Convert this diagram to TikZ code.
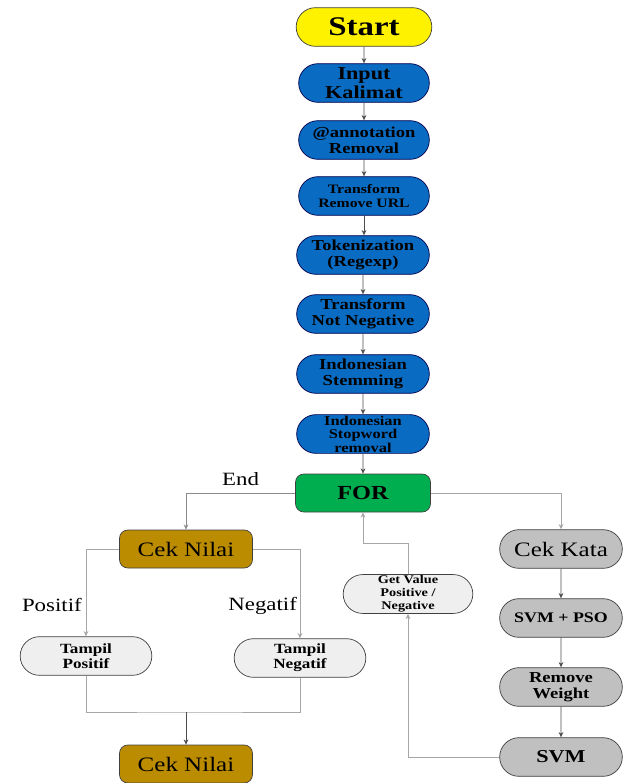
\documentclass[tikz,border=0pt]{standalone}
\usepackage{fontspec}
\setmainfont[FakeStretch=1.22]{Liberation Serif}
\usetikzlibrary{shapes.misc, arrows.meta}
\tikzset{>={Stealth[length=4.5pt,width=4pt]}}
\definecolor{stepblue}{HTML}{0A6BC2}
\definecolor{stepgold}{HTML}{BC8C00}
\definecolor{stepgreen}{HTML}{00AE4F}
\definecolor{lightfill}{HTML}{EFEFEF}
\definecolor{grayfill}{HTML}{C0C0C0}
\tikzset{
  pill/.style={rounded rectangle, draw=black!75, line width=0.6pt, align=center,
    minimum width=3.99cm, minimum height=1.16cm, inner sep=1pt},
  bluebox/.style={pill, fill=stepblue, draw=black!70!blue, font=\bfseries\fontsize{13}{14}\selectfont},
  box/.style={rectangle, rounded corners=0.25cm, draw=black!75, line width=0.6pt,
    minimum width=3.99cm, minimum height=1.14cm, align=center},
  flow/.style={->, draw=black!70, line width=0.5pt},
  branch/.style={draw=black!35, line width=0.6pt},
  tag/.style={font=\fontsize{16}{16}\selectfont},
}
\begin{document}
\begin{tikzpicture}[x=0.03cm, y=-0.03cm]
\useasboundingbox (0,0) rectangle (623,783);
% main chain
\node[pill, fill=yellow, minimum width=4.14cm, font=\bfseries\fontsize{23}{23}\selectfont] (start) at (364,27) {Start};
\node[bluebox, font=\bfseries\fontsize{15.5}{16}\selectfont] (input) at (364,83) {Input\\Kalimat};
\node[bluebox] (annot) at (364,140) {@annotation\\Removal};
\node[bluebox, font=\bfseries\fontsize{11}{12}\selectfont] (url) at (364,196) {Transform\\Remove URL};
\node[bluebox, minimum width=4.05cm] (token) at (363,255) {Tokenization\\(Regexp)};
\node[bluebox, minimum width=4.05cm] (notneg) at (363,314) {Transform\\Not Negative};
\node[bluebox, minimum width=4.05cm] (stem) at (363,374) {Indonesian\\Stemming};
\node[bluebox, minimum width=4.05cm, font=\bfseries\fontsize{11.5}{11.5}\selectfont] (stop) at (363,434) {Indonesian\\Stopword\\removal};
\node[box, fill=stepgreen, minimum width=4.05cm, font=\bfseries\fontsize{17}{17}\selectfont] (for) at (363,493) {FOR};
\draw[flow] (start) -- (input);
\draw[flow] (input) -- (annot);
\draw[flow] (annot) -- (url);
\draw[flow] (url.south) -- (url.south |- token.north);
\draw[flow] (token) -- (notneg);
\draw[flow] (notneg) -- (stem);
\draw[flow] (stem) -- (stop);
\draw[flow] (stop) -- (for);
% left branch
\node[box, fill=stepgold, font=\fontsize{17.5}{16}\selectfont] (cek1) at (186,549) {Cek Nilai};
\node[pill, fill=lightfill, minimum width=4.02cm, font=\bfseries\fontsize{12}{13}\selectfont] (tpos) at (86,656) {Tampil\\Positif};
\node[pill, fill=lightfill, minimum width=4.02cm, font=\bfseries\fontsize{12}{13}\selectfont] (tneg) at (300,658) {Tampil\\Negatif};
\node[box, fill=stepgold, font=\fontsize{17.5}{16}\selectfont] (cek2) at (186,764) {Cek Nilai};
\coordinate (join) at (186,712);
\draw[flow, draw=black!45] (for.west) -| node[tag, pos=0.25, above=3pt] (endlbl) {End} (cek1.north);
\draw[branch, ->] (cek1.west) -| node[tag, pos=0.82, left] (poslbl) {Positif} (tpos.north);
\draw[branch, ->] (cek1.east) -| node[tag, pos=0.82, left=-1pt] (neglbl) {Negatif} (tneg.north);
\draw[branch] (tpos.south) |- (join) -| (tneg.south);
\draw[flow] (join) -- (cek2.north);
% right branch
\node[pill, fill=grayfill, minimum width=3.75cm, font=\fontsize{17.5}{16}\selectfont] (kata) at (561,549) {Cek Kata};
\node[pill, fill=grayfill, minimum width=3.75cm, font=\bfseries\fontsize{12.5}{12}\selectfont] (svmpso) at (561,618) {SVM + PSO};
\node[pill, fill=grayfill, minimum width=3.75cm, font=\bfseries\fontsize{13}{14}\selectfont] (remw) at (561,687) {Remove\\Weight};
\node[pill, fill=grayfill, minimum width=3.75cm, font=\bfseries\fontsize{15.5}{15}\selectfont] (svm) at (561,757) {SVM};
\node[pill, fill=lightfill, minimum width=3.96cm, font=\bfseries\fontsize{10}{11}\selectfont] (getv) at (408,594) {Get Value\\Positive /\\Negative};
\coordinate (loop) at (408,543);
\draw[branch, ->] (for.east) -| (kata.north);
\draw[flow] (kata) -- (svmpso);
\draw[flow] (svmpso) -- (remw);
\draw[flow] (remw) -- (svm);
\draw[branch, ->] (svm.west) -| (getv.south);
\draw[branch, ->] (getv.north) -- (loop) -| (for.south);
\end{tikzpicture}
\end{document}
